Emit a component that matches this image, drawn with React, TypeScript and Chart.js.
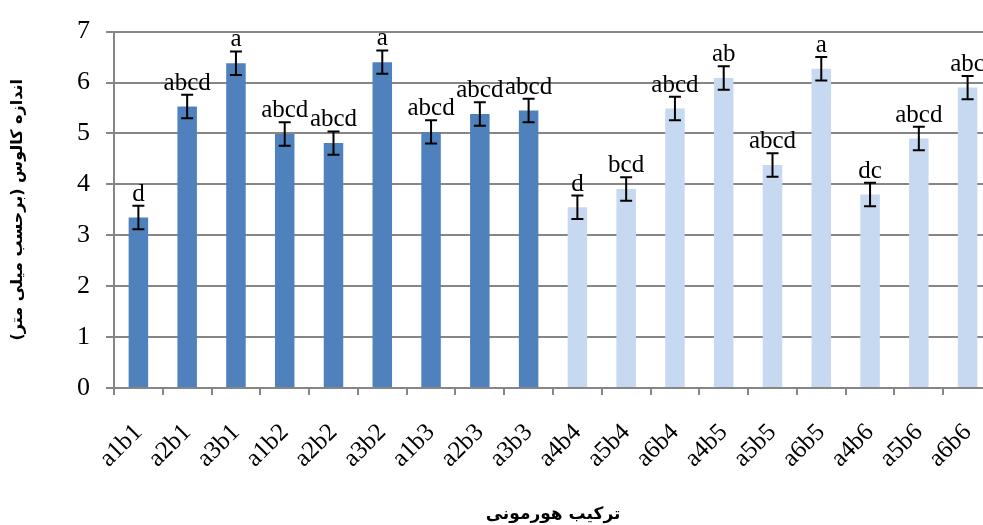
import React, { useEffect, useRef } from "react";
import { Chart, registerables } from "chart.js";

Chart.register(...registerables);

const categories = ["a1b1","a2b1","a3b1","a1b2","a2b2","a3b2","a1b3","a2b3","a3b3","a4b4","a5b4","a6b4","a4b5","a5b5","a6b5","a4b6","a5b6","a6b6"];
const values = [3.35, 5.53, 6.38, 4.99, 4.81, 6.40, 5.03, 5.38, 5.45, 3.55, 3.91, 5.49, 6.09, 4.38, 6.27, 3.80, 4.90, 5.90];
const errors = [0.23, 0.23, 0.23, 0.23, 0.23, 0.23, 0.23, 0.23, 0.23, 0.23, 0.23, 0.23, 0.23, 0.23, 0.23, 0.23, 0.23, 0.23];
const letters = ["d","abcd","a","abcd","abcd","a","abcd","abcd","abcd","d","bcd","abcd","ab","abcd","a","dc","abcd","abc"];
const groups = [1,1,1,1,1,1,1,1,1,2,2,2,2,2,2,2,2,2];
const yTitle = "اندازه کالوس (برحسب میلی متر)";
const xTitle = "ترکیب هورمونی";

const DARK = "#4F81BD";
const LIGHT = "#C6D9F1";
const GRID = "#868686";
const SERIF = "'Liberation Serif', 'Times New Roman', serif";

const errorPlugin = {
  id: "errLetters",
  afterDatasetsDraw(chart: any) {
    const ctx = chart.ctx;
    const meta = chart.getDatasetMeta(0);
    const y = chart.scales.y;
    ctx.save();
    meta.data.forEach((bar: any, i: number) => {
      const x = bar.x;
      const top = y.getPixelForValue(values[i] + errors[i]);
      const bot = y.getPixelForValue(values[i] - errors[i]);
      ctx.strokeStyle = "#000";
      ctx.lineWidth = 2;
      ctx.beginPath();
      ctx.moveTo(x, top);
      ctx.lineTo(x, bot);
      ctx.moveTo(x - 6, top);
      ctx.lineTo(x + 6, top);
      ctx.moveTo(x - 6, bot);
      ctx.lineTo(x + 6, bot);
      ctx.stroke();
      ctx.fillStyle = "#000";
      ctx.font = "25px " + SERIF;
      ctx.textAlign = "center";
      ctx.textBaseline = "alphabetic";
      ctx.fillText(letters[i], x, top - 5);
    });
    ctx.restore();
  },
};

export default function App() {
  const ref = useRef<HTMLCanvasElement>(null);
  useEffect(() => {
    if (!ref.current) return;
    const chart = new Chart(ref.current, {
      type: "bar",
      data: {
        labels: categories,
        datasets: [
          {
            data: values,
            backgroundColor: groups.map((g) => (g === 1 ? DARK : LIGHT)),
            barPercentage: 0.4,
            categoryPercentage: 1,
          },
        ],
      },
      options: {
        animation: false,
        responsive: false,
        layout: { padding: { top: 25, right: 8, left: 0, bottom: 0 } },
        plugins: { legend: { display: false }, tooltip: { enabled: false } },
        scales: {
          x: {
            grid: { drawOnChartArea: false, drawTicks: true, tickLength: 7, color: GRID, lineWidth: 2 },
            border: { color: GRID, width: 2 },
            ticks: {
              color: "#000",
              font: { family: SERIF, size: 25 },
              minRotation: 45,
              maxRotation: 45,
              autoSkip: false,
              padding: 23,
            },
            title: {
              display: true,
              text: xTitle,
              color: "#000",
              font: { family: "'DejaVu Sans', sans-serif", size: 17, weight: "bold" },
              padding: { top: 0, bottom: 0 },
            },
            afterFit: (s: any) => { s.height = 137; s.paddingRight = 0; s.paddingLeft = 0; },
          },
          y: {
            min: 0,
            max: 7,
            grid: { color: GRID, lineWidth: 2, tickLength: 8 },
            border: { color: GRID, width: 2 },
            ticks: {
              stepSize: 1,
              color: "#000",
              font: { family: SERIF, size: 26 },
              padding: 16,
            },
            title: {
              display: true,
              text: yTitle,
              color: "#000",
              font: { family: "'DejaVu Sans', sans-serif", size: 16, weight: "bold" },
              padding: { top: 8, bottom: 0 },
            },
            afterFit: (s: any) => { s.width = 114; },
          },
        },
      },
      plugins: [errorPlugin],
    });
    return () => chart.destroy();
  }, []);
  return (
    <div style={{ position: "fixed", left: 0, top: 0, width: 983, height: 525, overflow: "hidden", background: "#fff" }}>
      <canvas ref={ref} width={1000} height={525} style={{ width: 1000, height: 525, display: "block" }} />
    </div>
  );
}
